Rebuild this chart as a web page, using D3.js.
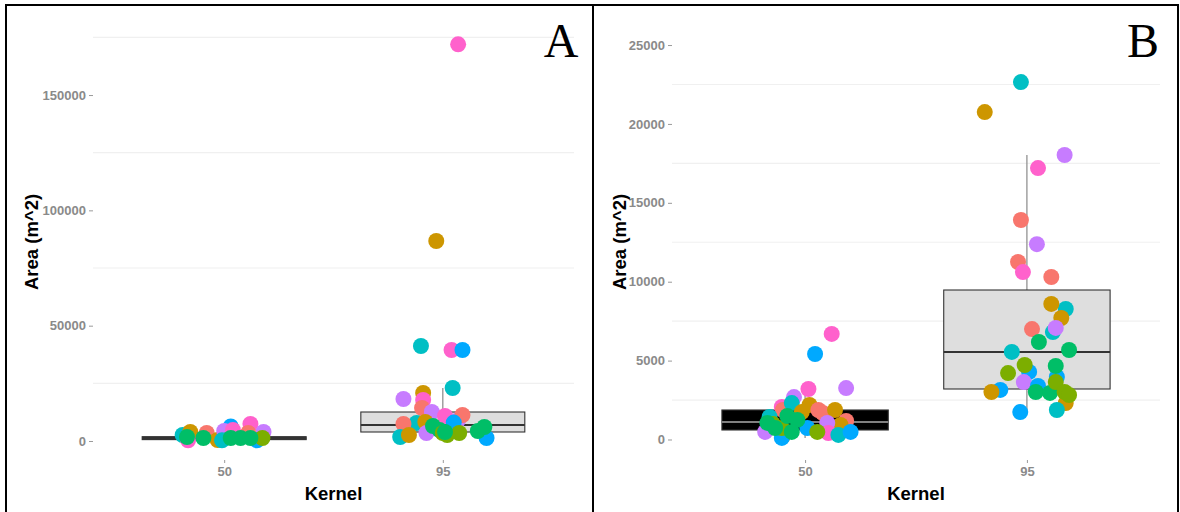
<!DOCTYPE html>
<html>
<head>
<meta charset="utf-8">
<script src="https://cdn.jsdelivr.net/npm/d3@7"></script>
<style>
  body { margin: 0; background: #ffffff; }
  svg text { font-family: "Liberation Sans", Arial, sans-serif; }
</style>
</head>
<body>
<div id="chart"></div>
<script>
const w = 1180;
const h = 512;

// ggplot hue palette, one colour per animal
const idColors = ["#F8766D", "#CD9600", "#7CAE00", "#00BE67", "#00BFC4", "#00A9FF", "#C77CFF", "#FF61CC"];
const kernels = ["50", "95"];

const ticksA = [0, 50000, 100000, 150000];
const minorA = [25000, 75000, 125000, 175000];
const ticksB = [0, 5000, 10000, 15000, 20000, 25000];
const minorB = [2500, 7500, 12500, 17500, 22500];

// box stats per kernel: [low whisker, q1, median, q3, high whisker]
const boxA = [[100, 600, 1100, 1870, 3900], [1300, 3900, 6940, 12570, 22980]];
const boxB = [[100, 602, 1110, 1870, 3260], [1740, 3200, 5545, 9474, 18030]];

// points: [animal, area, jitter]
const ptsA50 = [
  [4, 2600, -0.19], [1, 3900, -0.155], [0, 3470, -0.08], [1, 430, -0.03],
  [5, 6300, 0.03], [6, 4340, 0.0], [7, 4770, 0.04], [7, 7370, 0.12],
  [6, 3900, 0.18], [0, 3470, 0.11], [5, 300, 0.15], [7, 300, -0.165],
  [4, 300, -0.01], [2, 1300, 0.175], [3, 1730, -0.17], [3, 1300, -0.095],
  [3, 1300, 0.03], [3, 1300, 0.075], [3, 1300, 0.12]
];
const ptsA95 = [
  [7, 172000, 0.07], [1, 86700, -0.03], [4, 41200, -0.1], [7, 39460, 0.04],
  [5, 39460, 0.09], [4, 22980, 0.045], [1, 20810, -0.09], [6, 18210, -0.18],
  [7, 17780, -0.09], [0, 14310, -0.095], [6, 12570, -0.05], [7, 10840, 0.01],
  [6, 9100, 0.07], [0, 11270, 0.09], [4, 7800, -0.12], [1, 8240, -0.08],
  [0, 7370, -0.18], [5, 8000, 0.05], [4, 1730, -0.195], [1, 2600, -0.155],
  [6, 3470, -0.075], [5, 1300, 0.2], [3, 6500, -0.045], [3, 4770, -0.015],
  [2, 3470, 0.0], [2, 3470, 0.075], [2, 2600, 0.02], [3, 3900, 0.01],
  [3, 4340, 0.16], [3, 6070, 0.19]
];
const ptsB50 = [
  [7, 6690, 0.12], [5, 5420, 0.045], [7, 3200, 0.015], [6, 3260, 0.185],
  [6, 2690, -0.05], [7, 2060, -0.105], [0, 1870, -0.1], [4, 2310, -0.06],
  [1, 2190, 0.02], [1, 1740, -0.015], [0, 1870, 0.06], [0, 1680, 0.08],
  [1, 1870, 0.135], [0, 1170, 0.185], [1, 920, 0.16], [4, 1430, -0.16],
  [6, 1050, 0.1], [6, 480, -0.18], [7, 410, 0.105], [4, 290, 0.15],
  [1, 220, -0.1], [5, 100, -0.105], [5, 730, 0.01], [5, 480, 0.205],
  [2, 730, -0.105], [2, 980, -0.145], [3, 1490, -0.08], [3, 1240, -0.035],
  [3, 1050, -0.17], [3, 730, -0.135], [3, 480, -0.06], [2, 480, 0.055]
];
const ptsB95 = [
  [4, 22650, -0.027], [1, 20750, -0.19], [6, 18030, 0.17], [7, 17200, 0.05],
  [0, 13910, -0.027], [6, 12380, 0.045], [0, 11250, -0.04], [7, 10610, -0.018],
  [0, 10300, 0.11], [4, 8270, 0.175], [1, 8590, 0.11], [1, 7700, 0.155],
  [4, 6810, 0.117], [6, 7070, 0.13], [0, 7000, 0.023], [3, 6180, 0.054],
  [3, 5670, 0.19], [4, 5550, -0.068], [5, 4280, 0.01], [5, 3960, 0.135],
  [2, 4720, -0.01], [2, 4210, -0.085], [3, 4660, 0.13], [6, 3640, -0.014],
  [5, 3140, -0.12], [1, 3010, -0.16], [5, 3390, 0.05], [3, 3010, 0.04],
  [3, 2950, 0.104], [2, 3640, 0.13], [1, 2310, 0.175], [2, 3010, 0.17],
  [2, 2820, 0.19], [4, 1870, 0.135], [5, 1740, -0.03]
];

let svg = d3.select("div#chart").append("svg")
    .attr("width", w).attr("height", h)
    .style("background-color", "#ffffff");

const drawPanel = (p) => {
    let g = svg.append("g");
    let x = d3.scalePoint().domain(kernels).range([p.left, p.right]).padding(0.6);
    let y = d3.scaleLinear().domain(p.domain).range([p.bottom, p.top]);
    let step = x.step();

    g.selectAll("line.minor")
        .data(p.minor)
        .join("line")
        .attr("x1", p.left).attr("x2", p.right)
        .attr("y1", d => y(d)).attr("y2", d => y(d))
        .style("stroke", "#f0f0f0").style("stroke-width", 1.2);

    let yAxis = g.append("g")
        .attr("transform", "translate(" + p.left + ",0)")
        .call(d3.axisLeft(y).tickValues(p.ticks).tickSize(4).tickPadding(3).tickFormat(d3.format("d")));
    let xAxis = g.append("g")
        .attr("transform", "translate(0," + p.bottom + ")")
        .call(d3.axisBottom(x).tickSize(3).tickPadding(4));
    [yAxis, xAxis].forEach(a => {
        a.select(".domain").remove();
        a.selectAll(".tick line").style("stroke", "#9a9a9a");
        a.selectAll(".tick text")
            .style("fill", "#8a8a8a").style("font-size", "13px").style("font-weight", "bold")
            .style("font-family", "'Liberation Sans', Arial, sans-serif");
    });

    // boxplots
    kernels.forEach((k, i) => {
        let s = p.box[i];
        let cx = x(k);
        let half = step * 0.375;
        g.append("line")
            .attr("x1", cx).attr("x2", cx)
            .attr("y1", y(s[0])).attr("y2", y(s[4]))
            .style("stroke", "#888888").style("stroke-width", 1.2);
        g.append("rect")
            .attr("x", cx - half).attr("width", half * 2)
            .attr("y", y(s[3])).attr("height", y(s[1]) - y(s[3]))
            .style("fill", p.boxFill[i]).style("stroke", "#333333").style("stroke-width", 1.1);
        g.append("line")
            .attr("x1", cx - half).attr("x2", cx + half)
            .attr("y1", y(s[2])).attr("y2", y(s[2]))
            .style("stroke", p.medColor[i]).style("stroke-width", 2);
    });

    // jittered points
    p.points.forEach((pts, i) => {
        g.selectAll(null)
            .data(pts)
            .join("circle")
            .attr("cx", d => x(kernels[i]) + d[2] * step)
            .attr("cy", d => y(d[1]))
            .attr("r", 8)
            .style("fill", d => idColors[d[0]]);
    });

    g.append("text")
        .attr("x", (p.left + p.right) / 2).attr("y", 500)
        .attr("text-anchor", "middle")
        .style("font-size", "18.5px").style("font-weight", "bold")
        .text("Kernel");
    g.append("text")
        .attr("transform", "translate(" + p.titleX + ",242) rotate(-90)")
        .attr("text-anchor", "middle")
        .style("font-size", "18.5px").style("font-weight", "bold")
        .text("Area (m^2)");
    g.append("text")
        .attr("x", p.letterX).attr("y", 57)
        .attr("text-anchor", "middle")
        .style("font-family", "'Liberation Serif', 'Times New Roman', serif")
        .style("font-size", "48px")
        .text(p.letter);
};

drawPanel({
    left: 93, right: 574, top: 24, bottom: 460,
    domain: [-8240, 180800], ticks: ticksA, minor: minorA,
    box: boxA, boxFill: ["#333333", "#dedede"], medColor: ["#333333", "#333333"],
    points: [ptsA50, ptsA95], titleX: 38, letterX: 561, letter: "A"
});
drawPanel({
    left: 672, right: 1160, top: 25, bottom: 460,
    domain: [-1300, 26270], ticks: ticksB, minor: minorB,
    box: boxB, boxFill: ["#000000", "#dedede"], medColor: ["#808080", "#333333"],
    points: [ptsB50, ptsB95], titleX: 626, letterX: 1143, letter: "B"
});

// figure frame
svg.append("rect")
    .attr("x", 6).attr("y", 5).attr("width", 1172).attr("height", 520)
    .style("fill", "none").style("stroke", "#000000").style("stroke-width", 2);
svg.append("line")
    .attr("x1", 593).attr("x2", 593).attr("y1", 5).attr("y2", h)
    .style("stroke", "#000000").style("stroke-width", 2);
</script>
</body>
</html>
